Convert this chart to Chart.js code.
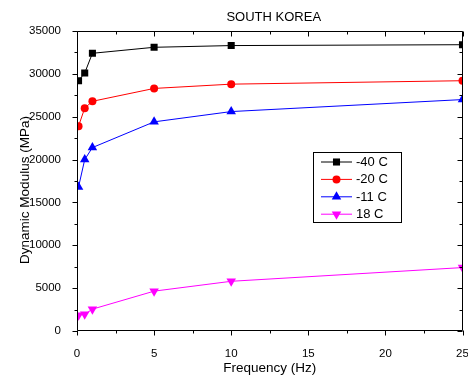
<!DOCTYPE html>
<html>
<head>
<meta charset="utf-8">
<script src="https://cdn.jsdelivr.net/npm/chart.js@4/dist/chart.umd.min.js"></script>
<style>
  html, body { margin: 0; padding: 0; background: #ffffff; }
  #wrap { width: 468px; height: 379px; }
</style>
</head>
<body>
<div id="wrap"><canvas id="chart" width="468" height="379"></canvas></div>
<script>
// Loading frequency (Hz) and dynamic modulus (MPa) at each test temperature
const frequencies = [0.1, 0.5, 1, 5, 10, 25];
const modulusMinus40 = [29200, 30100, 32400, 33100, 33300, 33400];
const modulusMinus20 = [23900, 26000, 26800, 28300, 28800, 29200];
const modulusMinus11 = [16800, 20000, 21400, 24400, 25600, 27000];
const modulus18 = [1850, 1950, 2550, 4650, 5800, 7400];
const seriesLabels = ['-40 C', '-20 C', '-11 C', '18 C'];
const xTickValues = [0, 5, 10, 15, 20, 25];
const yTickValues = [0, 5000, 10000, 15000, 20000, 25000, 30000, 35000];

const chartTitle = 'SOUTH KOREA';
const xAxisTitle = 'Frequency (Hz)';
const yAxisTitle = 'Dynamic Modulus (MPa)';

const FONT = '"Liberation Sans", Arial, sans-serif';

const seriesStyles = [
  { color: '#000000', pointStyle: 'rect', radius: 5, rotation: 0 },
  { color: '#ff0000', pointStyle: 'circle', radius: 4, rotation: 0 },
  { color: '#0000ff', pointStyle: 'triangle', radius: 5.5, rotation: 0 },
  { color: '#ff00ff', pointStyle: 'triangle', radius: 5.5, rotation: 180 }
];
const seriesValues = [modulusMinus40, modulusMinus20, modulusMinus11, modulus18];

const datasets = seriesValues.map((vals, i) => ({
  label: seriesLabels[i],
  data: frequencies.map((f, j) => ({ x: f, y: vals[j] })),
  borderColor: seriesStyles[i].color,
  backgroundColor: seriesStyles[i].color,
  pointBackgroundColor: seriesStyles[i].color,
  pointBorderColor: seriesStyles[i].color,
  pointStyle: seriesStyles[i].pointStyle,
  pointRadius: seriesStyles[i].radius,
  pointRotation: seriesStyles[i].rotation,
  pointBorderWidth: 0,
  borderWidth: 1,
  tension: 0
}));

// Frame, tick marks, titles and the boxed legend
const decorations = {
  id: 'decorations',
  afterDatasetsDraw(chart) {
    const { ctx, chartArea: a, scales: { x, y } } = chart;
    ctx.save();
    ctx.strokeStyle = '#000';
    ctx.lineWidth = 1;
    const L = Math.round(a.left) + 0.5, R = Math.round(a.right) - 0.5;
    const T = Math.round(a.top) + 0.5, B = Math.round(a.bottom) - 0.5;
    ctx.beginPath();
    ctx.rect(L, T, R - L, B - T);
    // x ticks: bottom outward, top inward
    for (let v = 0; v <= 25; v += 2.5) {
      const px = Math.round(x.getPixelForValue(v)) + 0.5;
      const len = (v % 5 === 0) ? 5 : 3;
      ctx.moveTo(px, B); ctx.lineTo(px, B + len);
      ctx.moveTo(px, T); ctx.lineTo(px, T + len);
    }
    // y ticks: left outward, right inward
    for (let v = 0; v <= 35000; v += 2500) {
      const py = Math.round(y.getPixelForValue(v)) + 0.5;
      const len = (v % 5000 === 0) ? 5 : 3;
      ctx.moveTo(L, py); ctx.lineTo(L - len, py);
      ctx.moveTo(R, py); ctx.lineTo(R - len, py);
    }
    ctx.stroke();

    // titles
    ctx.fillStyle = '#000';
    ctx.textAlign = 'center';
    ctx.textBaseline = 'middle';
    ctx.font = '13px ' + FONT;
    ctx.fillText(chartTitle, (a.left + a.right) / 2 + 4, 17);
    ctx.font = '13.5px ' + FONT;
    ctx.fillText(xAxisTitle, (a.left + a.right) / 2, 368);
    ctx.save();
    ctx.translate(25, 190);
    ctx.rotate(-Math.PI / 2);
    ctx.fillText(yAxisTitle, 0, 0);
    ctx.restore();

    // legend
    const boxL = 313.5, boxT = 152.5, rowH = 17.4, boxW = 88, boxH = 70;
    ctx.fillStyle = '#fff';
    ctx.fillRect(boxL, boxT, boxW, boxH);
    ctx.strokeRect(boxL, boxT, boxW, boxH);
    ctx.font = '13px ' + FONT;
    ctx.textAlign = 'left';
    chart.data.datasets.forEach((ds, i) => {
      const cy = boxT + 9.5 + i * rowH;
      ctx.strokeStyle = ds.borderColor;
      ctx.lineWidth = 1;
      ctx.beginPath();
      ctx.moveTo(321, cy); ctx.lineTo(352, cy);
      ctx.stroke();
      ctx.fillStyle = ds.pointBackgroundColor;
      ctx.strokeStyle = ds.pointBorderColor;
      Chart.helpers.drawPoint(ctx, {
        pointStyle: ds.pointStyle,
        rotation: ds.pointRotation,
        radius: ds.pointRadius,
        borderWidth: 0
      }, 336.5, cy);
      ctx.fillStyle = '#000';
      ctx.fillText(ds.label, 356, cy + 0.5);
    });
    ctx.restore();
  }
};

new Chart(document.getElementById('chart'), {
  type: 'line',
  data: { datasets },
  options: {
    responsive: false,
    animation: false,
    devicePixelRatio: 1,
    layout: { padding: { top: 31, right: 5, left: 0, bottom: 0 } },
    plugins: { legend: { display: false }, title: { display: false }, tooltip: { enabled: false } },
    scales: {
      x: {
        type: 'linear',
        min: 0, max: 25,
        afterFit(s) { s.height = 48; s.paddingLeft = 0; s.paddingRight = 0; },
        afterBuildTicks(s) { s.ticks = xTickValues.map(v => ({ value: v })); },
        grid: { display: false },
        border: { display: false },
        ticks: { color: '#000', font: { family: FONT, size: 11.5 }, padding: 8, maxRotation: 0, autoSkip: false,
                 callback: v => String(v) }
      },
      y: {
        type: 'linear',
        min: 0, max: 35000,
        afterFit(s) { s.width = 77; s.paddingTop = 0; s.paddingBottom = 0; },
        afterBuildTicks(s) { s.ticks = yTickValues.map(v => ({ value: v })); },
        grid: { display: false },
        border: { display: false },
        ticks: { color: '#000', font: { family: FONT, size: 11.5 }, padding: 8, autoSkip: false,
                 callback: v => String(v) }
      }
    }
  },
  plugins: [decorations]
});
</script>
</body>
</html>
